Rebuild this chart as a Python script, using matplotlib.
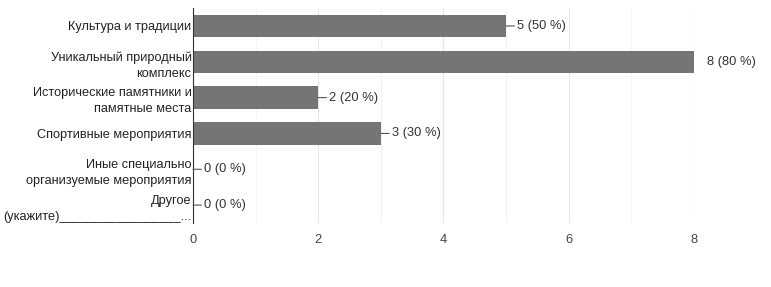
import matplotlib.pyplot as plt
import numpy as np

plt.rcParams['font.family'] = ['Liberation Sans', 'DejaVu Sans']

# Categories and answer counts
categories = [
    'Культура и традиции',
    'Уникальный природный\nкомплекс',
    'Исторические памятники и\nпамятные места',
    'Спортивные мероприятия',
    'Иные специально\nорганизуемые мероприятия',
    'Другое\n(укажите)_________________...',
]
counts = [5, 8, 2, 3, 0, 0]
percents = [50, 80, 20, 30, 0, 0]
x_ticks = [0, 2, 4, 6, 8]

fig = plt.figure(figsize=(7.71, 2.87), dpi=100)
ax = fig.add_axes([0.2503, 0.223, 0.6498, 0.749])

y = np.arange(len(categories))
ax.barh(y, counts, height=0.62, color='#757575', zorder=2)

ax.set_xlim(0, 8)
ax.set_ylim(len(categories) - 0.5, -0.5)

# gridlines: major at ticks, faint minor in between
ax.set_xticks(x_ticks)
ax.set_xticks([1, 3, 5, 7], minor=True)
ax.grid(axis='x', which='major', color='#e6e6e6', lw=0.8, zorder=0)
ax.grid(axis='x', which='minor', color='#f3f3f3', lw=0.8, zorder=0)
ax.tick_params(axis='x', which='both', length=0, labelsize=9.3,
               labelcolor='#444444', pad=8)
ax.tick_params(axis='y', length=0, labelsize=9.2, labelcolor='#222222', pad=1)
ax.set_yticks(y)
ax.set_yticklabels(categories, linespacing=1.45)

for s in ['top', 'right', 'bottom']:
    ax.spines[s].set_visible(False)
ax.spines['left'].set_color('#333333')
ax.spines['left'].set_linewidth(0.8)

# value labels with short leader lines
for yi, c, p in zip(y, counts, percents):
    txt = f'{c} ({p} %)'
    if c >= 8:
        ax.annotate(txt, (c, yi), xytext=(9.5, 0), textcoords='offset points',
                    va='center', ha='left', fontsize=9.3, color='#333333',
                    annotation_clip=False)
    else:
        ax.annotate(txt, (c, yi), xytext=(8, 0), textcoords='offset points',
                    va='center', ha='left', fontsize=9.3, color='#333333',
                    arrowprops=dict(arrowstyle='-', color='#555555', lw=0.8,
                                    shrinkA=0, shrinkB=0))

fig.savefig('out.png', dpi=100)
